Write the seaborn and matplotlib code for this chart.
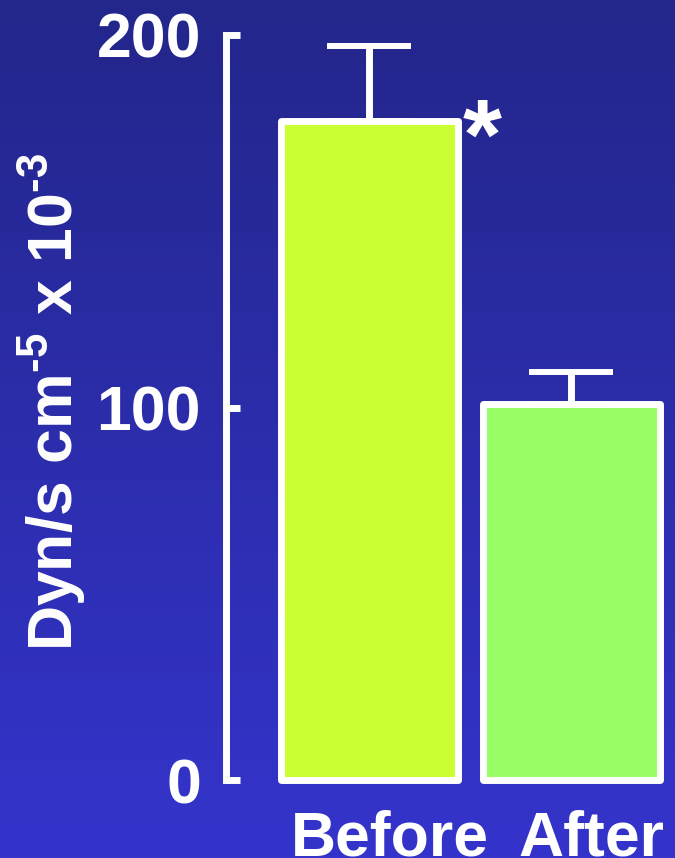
import numpy as np
import matplotlib
matplotlib.use("Agg")
import matplotlib.pyplot as plt
import seaborn as sns
from matplotlib.colors import LinearSegmentedColormap
from matplotlib.transforms import ScaledTranslation

# ---- data ----
conditions = ["Before", "After"]
means = [177, 101]
sem_upper = [20, 8.5]
bar_colors = ["#ccff33", "#99ff66"]
yticks = [0, 100, 200]
ylabel = r"Dyn/s cm$^{\text{-5}}$ x 10$^{\text{-3}}$"
significance = ["*", ""]

sns.set_theme(style="white")
plt.rcParams["font.family"] = ["Liberation Sans", "DejaVu Sans"]
plt.rcParams["font.weight"] = "bold"
plt.rcParams["mathtext.fontset"] = "custom"
plt.rcParams["mathtext.rm"] = "Liberation Sans:bold"
plt.rcParams["mathtext.it"] = "Liberation Sans:bold"
plt.rcParams["mathtext.bf"] = "Liberation Sans:bold"

W, H = 675, 858
fig = plt.figure(figsize=(W / 100, H / 100), dpi=100)

# background gradient
bg = fig.add_axes([0, 0, 1, 1], zorder=-10)
grad = np.linspace(0, 1, 256)[:, None]
cmap = LinearSegmentedColormap.from_list("bg", ["#23268a", "#3434cc"])
bg.imshow(grad, aspect="auto", cmap=cmap, extent=[0, 1, 0, 1], origin="upper")
bg.axis("off")

ax = fig.add_axes([226 / W, 78 / H, 449 / W, 745 / H])
ax.patch.set_alpha(0)

sns.barplot(x=conditions, y=means, hue=conditions, palette=bar_colors, legend=False,
            width=0.88, edgecolor="white", linewidth=5, saturation=1, ax=ax, zorder=3)
for p in ax.patches:
    p.set_clip_on(False)
    p.set_joinstyle("round")

eb = ax.errorbar(x=np.arange(len(means)), y=means,
                 yerr=[np.zeros(len(means)), sem_upper], fmt="none", ecolor="white",
                 elinewidth=5, capsize=30, capthick=4.3, zorder=2)
for art in list(eb.lines[1]) + list(eb.lines[2]):
    art.set_clip_on(False)

for i, (m, s) in enumerate(zip(means, significance)):
    if s:
        ax.annotate(s, xy=(i + 0.44, m), xytext=(17, 18), textcoords="offset points",
                    ha="center", va="top", fontsize=72, color="white", fontweight="bold",
                    annotation_clip=False)

ax.set_xlim(-0.710, 1.513)
ax.set_ylim(0, 200)
for side in ["top", "right", "bottom"]:
    ax.spines[side].set_visible(False)
ax.spines["left"].set_bounds(0, 200)
ax.spines["left"].set_linewidth(5)
ax.spines["left"].set_color("white")
ax.spines["left"].set_capstyle("projecting")
ax.set_yticks(yticks)
ax.set_yticklabels([str(t) for t in yticks])
ax.tick_params(axis="y", direction="in", length=10, width=5, color="white",
               labelsize=45, labelcolor="white", pad=18, left=True)
ax.tick_params(axis="x", length=0, labelsize=45, labelcolor="white", pad=21)
ax.set_xlabel("")
ax.set_ylabel("")
for lab in ax.get_xticklabels():
    lab.set_fontweight("bold")
    lab.set_transform(lab.get_transform() + ScaledTranslation(20 / 100, 0, fig.dpi_scale_trans))
for lab in ax.get_yticklabels():
    lab.set_fontweight("bold")

fig.text(73 / W, 1 - 402 / H, ylabel, rotation=90, rotation_mode="anchor",
         ha="center", va="baseline", fontsize=45, color="white", fontweight="bold")

fig.savefig("out.png", dpi=100)
